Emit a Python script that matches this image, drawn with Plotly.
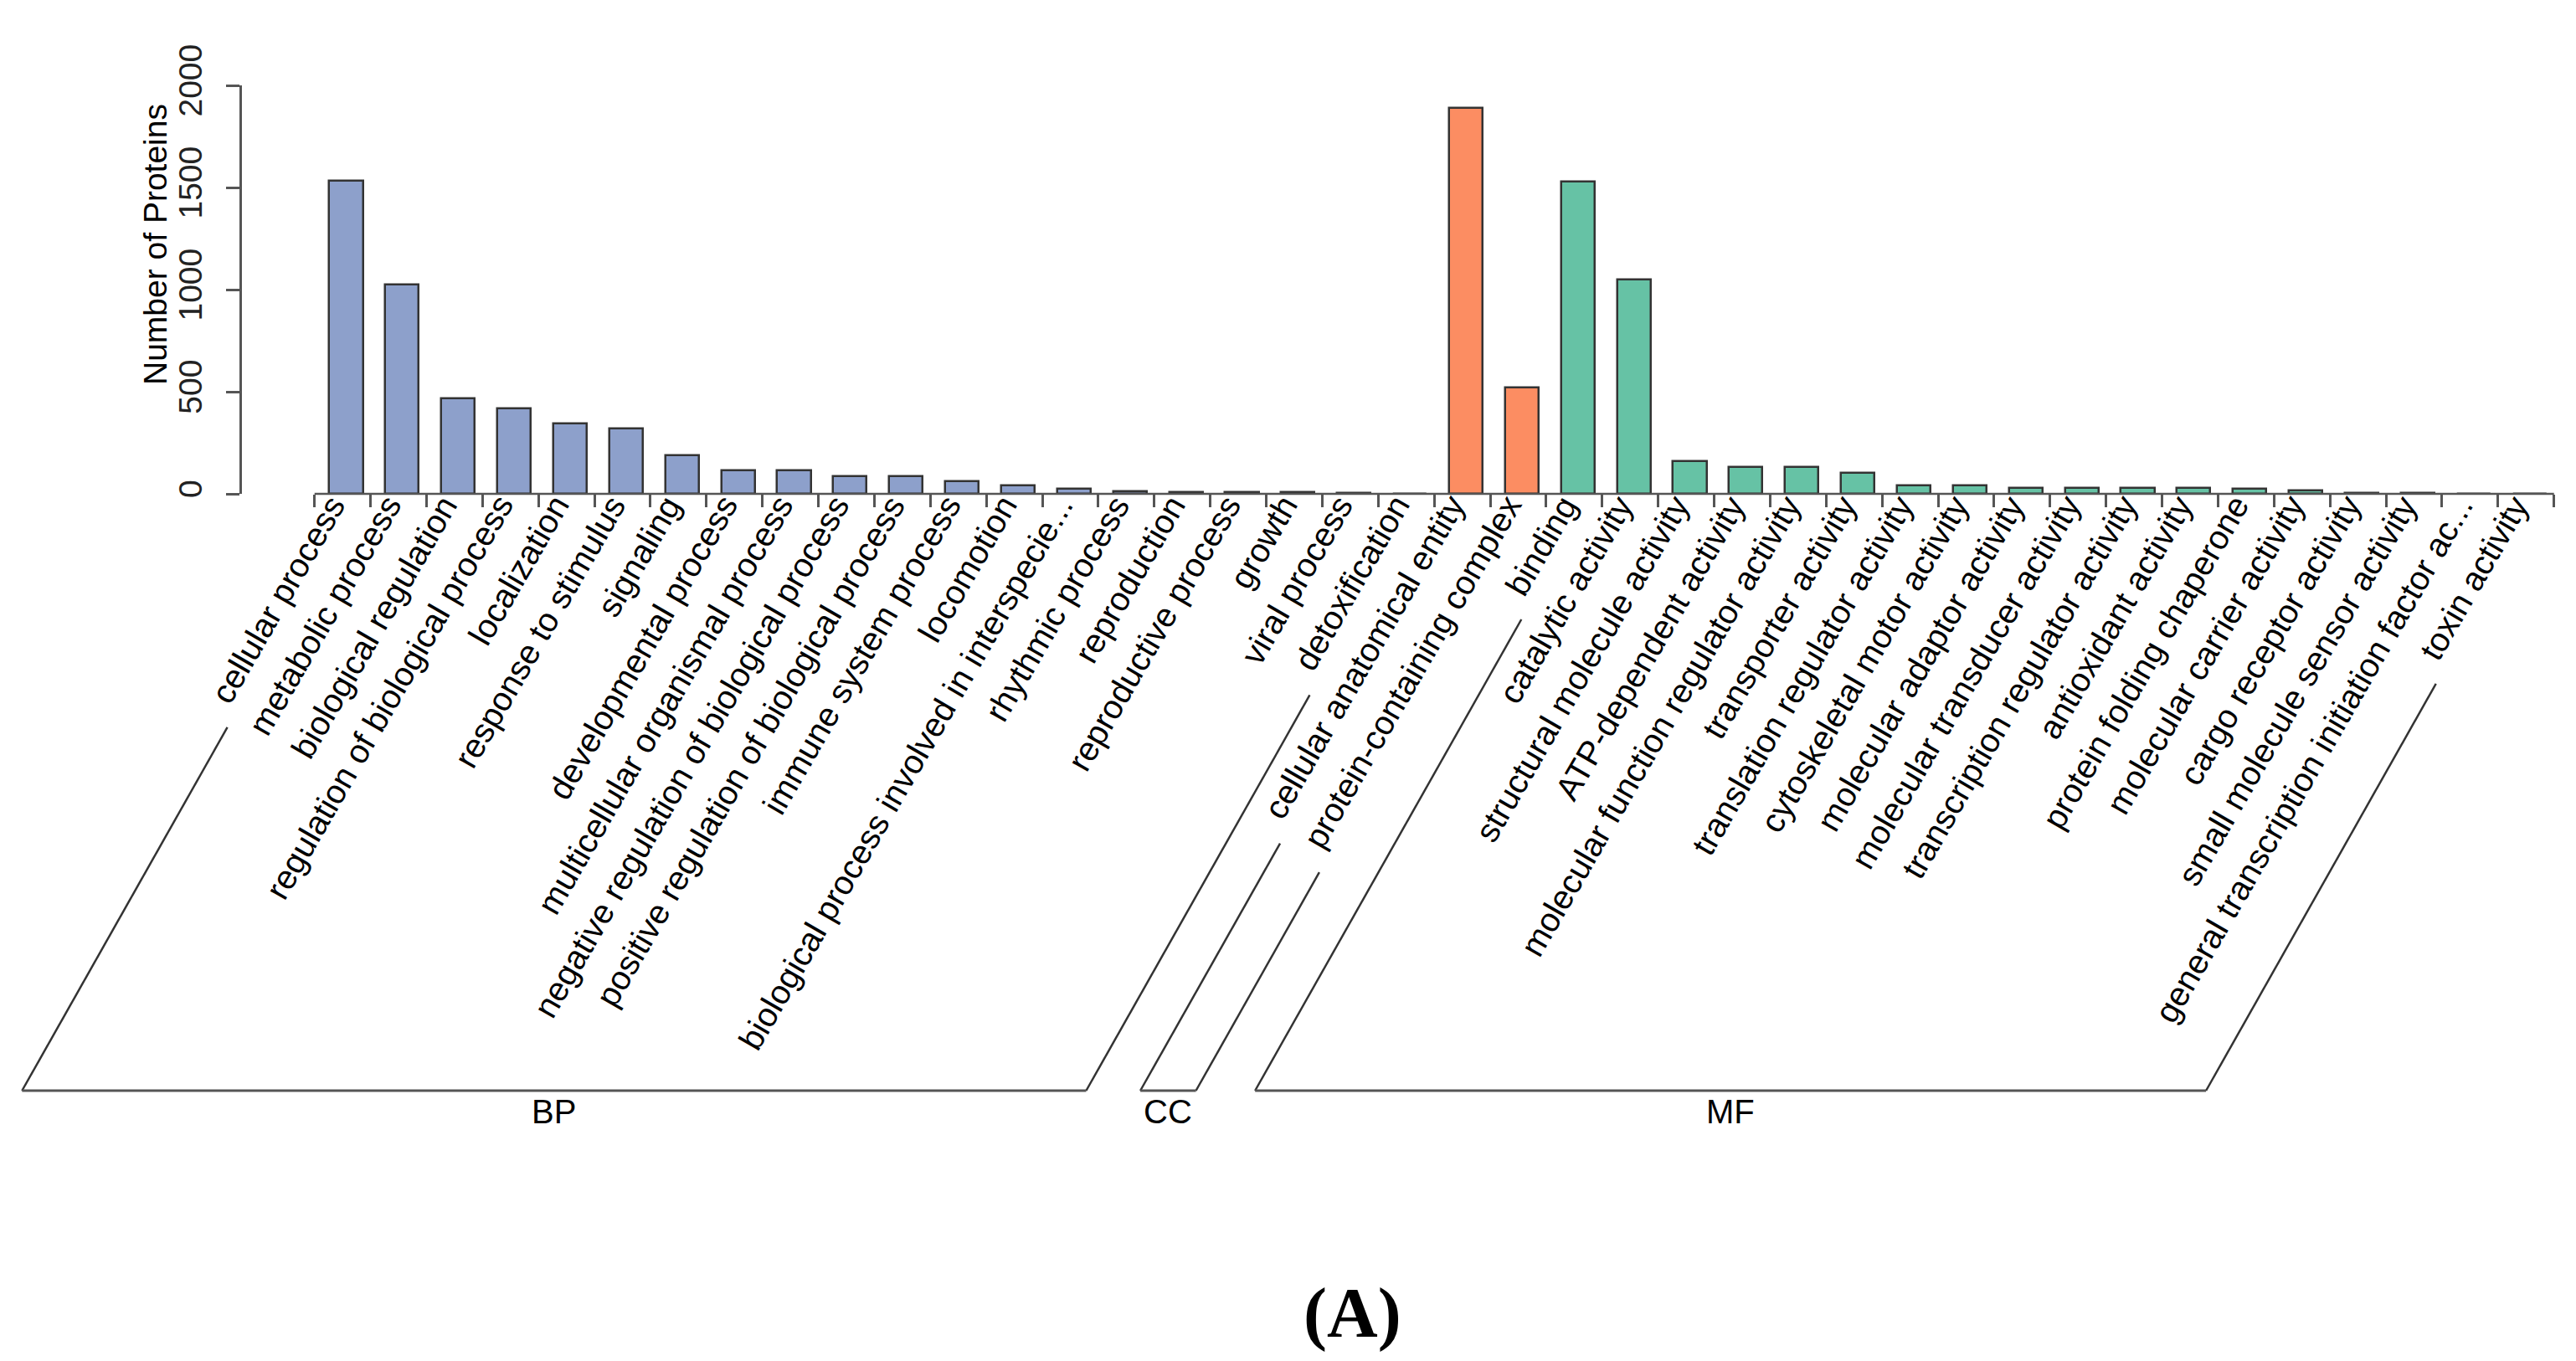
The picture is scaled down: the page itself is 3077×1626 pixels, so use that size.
import plotly.graph_objects as go

# ---------------- data ----------------
categories = [
    "cellular process", "metabolic process", "biological regulation",
    "regulation of biological process", "localization", "response to stimulus",
    "signaling", "developmental process", "multicellular organismal process",
    "negative regulation of biological process", "positive regulation of biological process",
    "immune system process", "locomotion", "biological process involved in interspecie...",
    "rhythmic process", "reproduction", "reproductive process", "growth",
    "viral process", "detoxification",
    "cellular anatomical entity", "protein-containing complex",
    "binding", "catalytic activity", "structural molecule activity",
    "ATP-dependent activity", "molecular function regulator activity",
    "transporter activity", "translation regulator activity",
    "cytoskeletal motor activity", "molecular adaptor activity",
    "molecular transducer activity", "transcription regulator activity",
    "antioxidant activity", "protein folding chaperone", "molecular carrier activity",
    "cargo receptor activity", "small molecule sensor activity",
    "general transcription initiation factor ac...", "toxin activity",
]
bp_values = [1532, 1026, 469, 420, 344, 320, 190, 114, 114, 88, 88, 63, 40, 26, 14, 10, 10, 10, 4, 2]
cc_values = [1890, 519]
mf_values = [1530, 1050, 161, 133, 133, 101, 39, 39, 28, 28, 28, 28, 26, 16, 5, 3, 2, 2]
group_names = ["BP", "CC", "MF"]
group_values = [bp_values, cc_values, mf_values]
group_colors = ["#8DA0CB", "#FC8D62", "#66C2A5"]
y_ticks = [0, 500, 1000, 1500, 2000]
y_title = "Number of Proteins"
panel_tag = "(A)"

# ---------------- layout geometry (pixels) ----------------
FIG_W, FIG_H = 3077, 1626
L, R_EDGE, TOP, BOT = 281, 3044, 94, 582
SLOT = 66.875          # pixels per category slot
C0 = 405.5             # pixel centre of first bar
TICK_OFF = -0.565      # slot boundary ticks relative to bar centres
FS = 40                # label font size

x_lo = (L - C0) / SLOT
x_hi = (R_EDGE - C0) / SLOT


def pxx(px):
    return (px - L) / (R_EDGE - L)


def pxy(py):
    return (BOT - py) / (BOT - TOP)


# Arial / Liberation Sans advance widths (em) for bracket geometry
CW = {'a': .556, 'b': .556, 'c': .5, 'd': .556, 'e': .556, 'f': .278, 'g': .556, 'h': .556,
      'i': .222, 'j': .222, 'k': .5, 'l': .222, 'm': .833, 'n': .556, 'o': .556, 'p': .556,
      'q': .556, 'r': .333, 's': .5, 't': .278, 'u': .556, 'v': .5, 'w': .722, 'x': .5,
      'y': .5, 'z': .5, ' ': .278, '-': .333, '.': .278, 'A': .667, 'T': .611, 'P': .667}


def text_w(s):
    return sum(CW.get(ch, .556) for ch in s) * FS


fig = go.Figure()

idx = 0
group_ranges = []
for name, vals, col in zip(group_names, group_values, group_colors):
    xs = list(range(idx, idx + len(vals)))
    group_ranges.append((xs[0], xs[-1]))
    fig.add_trace(go.Bar(
        x=xs, y=vals, name=name, width=0.6,
        marker=dict(color=col, line=dict(color="#333333", width=2.5)),
        showlegend=False,
    ))
    idx += len(vals)

n = len(categories)

# category labels, rotated 60 degrees, ending under each bar
for i, lab in enumerate(categories):
    fig.add_annotation(
        x=i, y=0, xref="x", yref="y", text=lab, showarrow=False,
        textangle=-60, xanchor="right", yanchor="top", xshift=10, yshift=8,
        font=dict(family="Liberation Sans, Arial, sans-serif", size=FS, color="black"),
    )

# x axis line
fig.add_shape(type="line", xref="x", yref="paper", x0=TICK_OFF, x1=n - 1 + TICK_OFF + 1,
              y0=0, y1=0, line=dict(color="#555555", width=2.5))

# group brackets
BASE_Y = 1295
COT = 0.565
for name, (a, b) in zip(group_names, group_ranges):
    pts = []
    for i in (a, b):
        ex, ey = C0 + SLOT * i + 7, 603
        ln = text_w(categories[i]) + 20
        tx, ty = ex - ln * 0.5, ey + ln * 0.866
        bx = tx - (BASE_Y - ty) * COT
        pts.append((tx, ty, bx))
    for tx, ty, bx in pts:
        fig.add_shape(type="line", xref="paper", yref="paper",
                      x0=pxx(tx), y0=pxy(ty), x1=pxx(bx), y1=pxy(BASE_Y),
                      line=dict(color="#333333", width=2.5))
    fig.add_shape(type="line", xref="paper", yref="paper",
                  x0=pxx(pts[0][2]), y0=pxy(BASE_Y), x1=pxx(pts[1][2]), y1=pxy(BASE_Y),
                  line=dict(color="#555555", width=3))
    fig.add_annotation(x=pxx((pts[0][2] + pts[1][2]) / 2), y=pxy(1320), xref="paper", yref="paper",
                       text=name, showarrow=False, xanchor="center", yanchor="middle",
                       font=dict(family="Liberation Sans, Arial, sans-serif", size=FS, color="black"))

# y-axis title
fig.add_annotation(x=pxx(177), y=pxy(284), xref="paper", yref="paper", text=y_title,
                   showarrow=False, textangle=-90, xanchor="center", yanchor="middle",
                   font=dict(family="Liberation Sans, Arial, sans-serif", size=39, color="black"))

# panel tag
fig.add_annotation(x=pxx(1607), y=pxy(1561), xref="paper", yref="paper", text="<b>" + panel_tag + "</b>",
                   showarrow=False, xanchor="center", yanchor="middle",
                   font=dict(family="Liberation Serif, Times New Roman, serif", size=84, color="black"))

fig.update_layout(
    width=FIG_W, height=FIG_H,
    margin=dict(l=L, r=FIG_W - R_EDGE, t=TOP, b=FIG_H - BOT, pad=0),
    plot_bgcolor="white", paper_bgcolor="white",
    bargap=0,
    xaxis=dict(range=[x_lo, x_hi], tickmode="array",
               tickvals=[k + TICK_OFF for k in range(n + 1)],
               ticks="outside", ticklen=15, tickwidth=2.5, tickcolor="#555555",
               showticklabels=False, showline=False, showgrid=False, zeroline=False,
               automargin=False, fixedrange=True),
    yaxis=dict(range=[0, 2000], tickmode="array", tickvals=y_ticks,
               ticktext=[str(v) for v in y_ticks], tickangle=-90,
               ticks="outside", ticklen=16, tickwidth=2.5, tickcolor="#555555",
               ticklabelstandoff=14,
               showline=True, linecolor="#555555", linewidth=2.5,
               showgrid=False, zeroline=False, automargin=False,
               tickfont=dict(family="Liberation Sans, Arial, sans-serif", size=39, color="#222222")),
)

fig.write_html("out.html")
